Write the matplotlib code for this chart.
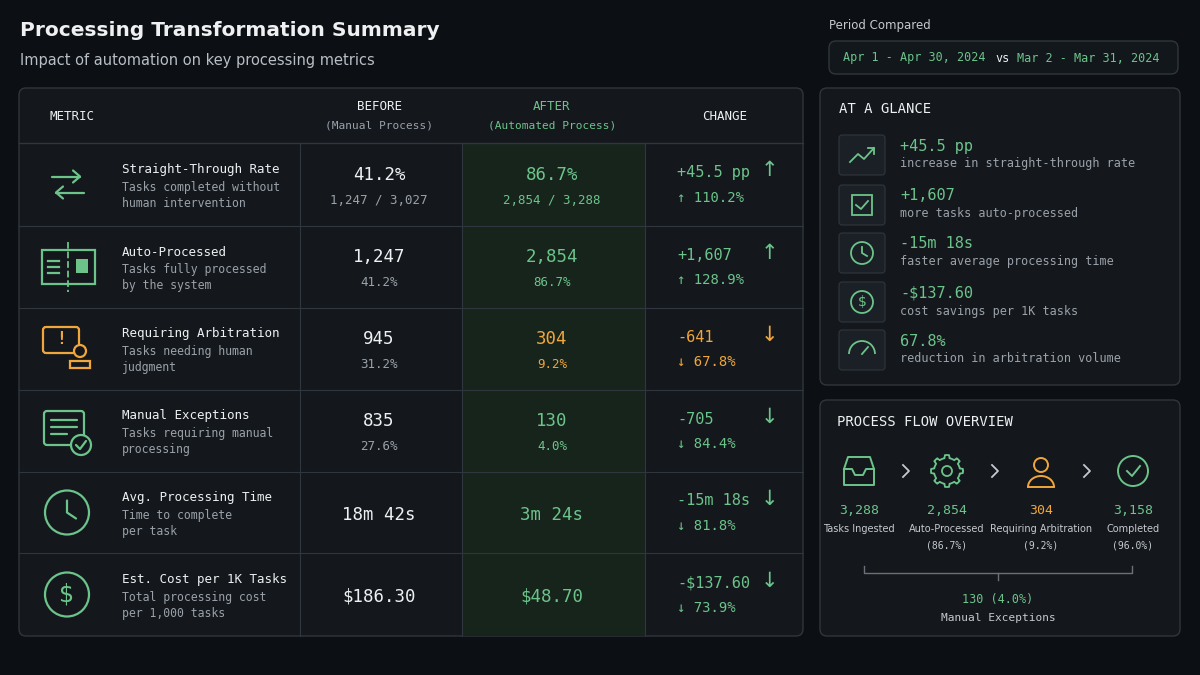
import numpy as np
import matplotlib.pyplot as plt
from matplotlib.patches import FancyBboxPatch, Rectangle, Circle, Arc

# data
metrics = ['Straight-Through Rate', 'Auto-Processed', 'Requiring Arbitration',
           'Manual Exceptions', 'Avg. Processing Time', 'Est. Cost per 1K Tasks']
descs = [['Tasks completed without', 'human intervention'],
         ['Tasks fully processed', 'by the system'],
         ['Tasks needing human', 'judgment'],
         ['Tasks requiring manual', 'processing'],
         ['Time to complete', 'per task'],
         ['Total processing cost', 'per 1,000 tasks']]
before_main = ['41.2%', '1,247', '945', '835', '18m 42s', '$186.30']
before_sub = ['1,247 / 3,027', '41.2%', '31.2%', '27.6%', '', '']
after_main = ['86.7%', '2,854', '304', '130', '3m 24s', '$48.70']
after_sub = ['2,854 / 3,288', '86.7%', '9.2%', '4.0%', '', '']
change_main = ['+45.5 pp', '+1,607', '-641', '-705', '-15m 18s', '-$137.60']
change_pct = ['110.2%', '128.9%', '67.8%', '84.4%', '81.8%', '73.9%']
change_up = [True, True, False, False, False, False]
warn_row = [False, False, True, False, False, False]

glance_vals = ['+45.5 pp', '+1,607', '-15m 18s', '-$137.60', '67.8%']
glance_desc = ['increase in straight-through rate', 'more tasks auto-processed',
               'faster average processing time', 'cost savings per 1K tasks',
               'reduction in arbitration volume']

flow_vals = ['3,288', '2,854', '304', '3,158']
flow_labels = ['Tasks Ingested', 'Auto-Processed', 'Requiring Arbitration', 'Completed']
flow_pcts = ['', '(86.7%)', '(9.2%)', '(96.0%)']
exceptions_val = '130 (4.0%)'

BG = '#0c0f13'
PANEL = '#14181d'
BORDER = '#30363d'
GREEN = '#6cc48a'
ORANGE = '#f0a63a'
WHITE = '#eef0f2'
GREY = '#9aa1a9'
MONO = 'DejaVu Sans Mono'

fig = plt.figure(figsize=(12, 6.75), dpi=100, facecolor=BG)
ax = fig.add_axes([0, 0, 1, 1])
ax.set_xlim(0, 1200)
ax.set_ylim(675, 0)
ax.axis('off')
ax.set_facecolor(BG)


def panel(x0, y0, x1, y1, fc=PANEL):
    ax.add_patch(FancyBboxPatch((x0, y0), x1 - x0, y1 - y0, boxstyle='round,pad=0,rounding_size=7',
                                fc=fc, ec=BORDER, lw=1))


def t(x, y, s, size=9, color=WHITE, ha='left', family=MONO, weight='normal'):
    ax.text(x, y, s, fontsize=size, color=color, ha=ha, va='center', family=family, weight=weight)


# title
t(20, 31, 'Processing Transformation Summary', 14.5, WHITE, family='DejaVu Sans', weight='bold')
t(20, 60, 'Impact of automation on key processing metrics', 10.5, '#b8bec6', family='DejaVu Sans')
t(829, 25, 'Period Compared', 8.5, '#c5cad0', family='DejaVu Sans')
panel(829, 41, 1178, 74, fc='#12171c')
ax.text(843, 58, 'Apr 1 - Apr 30, 2024', fontsize=8.5, color=GREEN, family=MONO, va='center')
ax.text(995, 58, 'vs', fontsize=8.5, color=WHITE, family=MONO, va='center')
ax.text(1017, 58, 'Mar 2 - Mar 31, 2024', fontsize=8.5, color=GREEN, family=MONO, va='center')

# table
panel(19, 88, 803, 636)
cols = [19, 300, 462, 645, 803]
row_y = [143, 226, 308, 390, 472, 553, 636]
ax.add_patch(Rectangle((462, 143), 183, 493, fc='#17241c', ec='none'))
ax.plot([19, 803], [143, 143], color=BORDER, lw=1)
for y in row_y[1:-1]:
    ax.plot([19, 803], [y, y], color=BORDER, lw=0.8)
for x in cols[1:-1]:
    ax.plot([x, x], [143, 636], color=BORDER, lw=0.8)
t(50, 116, 'METRIC', 9)
t(379, 107, 'BEFORE', 9, ha='center')
t(379, 126, '(Manual Process)', 8, GREY, ha='center')
t(552, 107, 'AFTER', 9, GREEN, ha='center')
t(552, 126, '(Automated Process)', 8, GREEN, ha='center')
t(725, 116, 'CHANGE', 9, ha='center')


def icon(i, cx, cy, c):
    kw = dict(color=c, lw=1.6, solid_capstyle='round')
    if i == 0:
        ax.plot([52, 80], [cy - 8, cy - 8], **kw)
        ax.plot([73, 80, 73], [cy - 14, cy - 8, cy - 2], **kw)
        ax.plot([56, 84], [cy + 8, cy + 8], **kw)
        ax.plot([63, 56, 63], [cy + 2, cy + 8, cy + 14], **kw)
    elif i == 1:
        ax.add_patch(Rectangle((42, cy - 17), 53, 34, fc='none', ec=c, lw=1.6))
        ax.plot([68, 68], [cy - 25, cy + 25], color=c, lw=1.3, ls='--')
        for k in range(3):
            ax.plot([48, 59], [cy - 6 + 6 * k] * 2, color=c, lw=1.6)
        ax.add_patch(Rectangle((76, cy - 8), 12, 14, fc=c, ec='none'))
    elif i == 2:
        ax.add_patch(FancyBboxPatch((43, cy - 22), 36, 26, boxstyle='round,pad=0,rounding_size=3',
                                    fc='none', ec=c, lw=1.6))
        t(61, cy - 10, '!', 12, c, ha='center', weight='bold')
        ax.add_patch(Circle((80, cy + 2), 6, fc=PANEL, ec=c, lw=1.6))
        ax.add_patch(Rectangle((70, cy + 12), 20, 7, fc='none', ec=c, lw=1.6))
    elif i == 3:
        ax.add_patch(FancyBboxPatch((44, cy - 20), 40, 34, boxstyle='round,pad=0,rounding_size=3',
                                    fc='none', ec=c, lw=1.6))
        for k, w in enumerate([26, 26, 16]):
            ax.plot([51, 51 + w], [cy - 11 + 7 * k] * 2, **kw)
        ax.add_patch(Circle((81, cy + 14), 10, fc=PANEL, ec=c, lw=1.6))
        ax.plot([76, 80, 86], [cy + 14, cy + 18, cy + 10], **kw)
    elif i == 4:
        ax.add_patch(Circle((cx, cy), 22, fc='none', ec=c, lw=1.6))
        ax.plot([cx, cx, cx + 9], [cy - 12, cy, cy + 6], **kw)
    else:
        ax.add_patch(Circle((cx, cy), 22, fc='none', ec=c, lw=1.6))
        t(cx, cy, '$', 17, c, ha='center', family='DejaVu Sans')


for i in range(6):
    y0, y1 = row_y[i], row_y[i + 1]
    cy = (y0 + y1) / 2
    ic = ORANGE if warn_row[i] else GREEN
    icon(i, 67, cy, ic)
    t(122, cy - 15, metrics[i], 9)
    t(122, cy + 3, descs[i][0], 8.3, GREY)
    t(122, cy + 19, descs[i][1], 8.3, GREY)
    acol = ORANGE if warn_row[i] else GREEN
    if before_sub[i]:
        t(379, cy - 10, before_main[i], 12.5, ha='center')
        t(379, cy + 16, before_sub[i], 9, GREY, ha='center')
        t(552, cy - 10, after_main[i], 12.5, acol, ha='center')
        t(552, cy + 16, after_sub[i], 9, acol, ha='center')
    else:
        t(379, cy + 2, before_main[i], 12.5, ha='center')
        t(552, cy + 2, after_main[i], 12.5, acol, ha='center')
    ccol = ORANGE if warn_row[i] else GREEN
    arrow = '↑' if change_up[i] else '↓'
    t(677, cy - 12, change_main[i], 11, ccol)
    t(769, cy - 14, arrow, 15, ccol, ha='center', family='DejaVu Sans')
    t(677, cy + 13, arrow + ' ' + change_pct[i], 10, ccol)

# at a glance
panel(820, 88, 1180, 385)
t(839, 109, 'AT A GLANCE', 10)
gy = [155, 205, 253, 302, 350]
for k in range(5):
    y = gy[k]
    ax.add_patch(FancyBboxPatch((839, y - 20), 46, 40, boxstyle='round,pad=0,rounding_size=3',
                                fc='#1b2026', ec=BORDER, lw=0.8))
    cx = 862
    kw = dict(color=GREEN, lw=1.3)
    if k == 0:
        ax.plot([850, 858, 864, 874], [y + 7, y - 1, y + 4, y - 7], **kw)
        ax.plot([868, 874, 874], [y - 7, y - 7, y - 1], **kw)
    elif k == 1:
        ax.add_patch(Rectangle((852, y - 10), 20, 20, fc='none', ec=GREEN, lw=1.3))
        ax.plot([856, 861, 868], [y, y + 4, y - 4], **kw)
    elif k == 2:
        ax.add_patch(Circle((cx, y), 11, fc='none', ec=GREEN, lw=1.3))
        ax.plot([cx, cx, cx + 5], [y - 6, y, y + 3], **kw)
    elif k == 3:
        ax.add_patch(Circle((cx, y), 11, fc='none', ec=GREEN, lw=1.3))
        t(cx, y, '$', 10, GREEN, ha='center', family='DejaVu Sans')
    else:
        ax.add_patch(Arc((cx, y + 4), 26, 26, theta1=180, theta2=360, color=GREEN, lw=1.3))
        ax.plot([cx, cx + 6], [y + 4, y - 3], **kw)
    t(900, y - 9, glance_vals[k], 11, GREEN)
    t(900, y + 9, glance_desc[k], 8.5, GREY)

# process flow
panel(820, 400, 1180, 636)
t(837, 422, 'PROCESS FLOW OVERVIEW', 10)
fx = [859, 947, 1041, 1133]
fy = 471
for k in range(4):
    c = ORANGE if k == 2 else GREEN
    x = fx[k]
    if k == 0:
        ax.plot([844, 848, 870, 874, 874, 844, 844], [fy - 2, fy - 14, fy - 14, fy - 2, fy + 14, fy + 14, fy - 2], color=c, lw=1.4)
        ax.plot([844, 852, 855, 863, 866, 874], [fy - 2, fy - 2, fy + 4, fy + 4, fy - 2, fy - 2], color=c, lw=1.4)
    elif k == 1:
        ang = np.linspace(0, 2 * np.pi, 97)
        r = 13 + 3 * (np.cos(8 * ang) > 0.3)
        ax.plot(x + r * np.cos(ang), fy + r * np.sin(ang), color=c, lw=1.3)
        ax.add_patch(Circle((x, fy), 5, fc='none', ec=c, lw=1.3))
    elif k == 2:
        ax.add_patch(Circle((x, fy - 6), 7, fc='none', ec=c, lw=1.4))
        ax.add_patch(Arc((x, fy + 16), 26, 22, theta1=180, theta2=360, color=c, lw=1.4))
        ax.plot([x - 13, x + 13], [fy + 16, fy + 16], color=c, lw=1.4)
    else:
        ax.add_patch(Circle((x, fy), 15, fc='none', ec=c, lw=1.4))
        ax.plot([x - 6, x - 1, x + 7], [fy, fy + 5, fy - 5], color=c, lw=1.4)
    t(x, 511, flow_vals[k], 9.5, c, ha='center')
    t(x, 529, flow_labels[k], 7, '#c5cad0', ha='center', family='DejaVu Sans')
    if flow_pcts[k]:
        t(x, 546, flow_pcts[k], 7, '#c5cad0', ha='center')
for x in [906, 995, 1087]:
    ax.plot([x - 3, x + 3, x - 3], [fy - 6, fy, fy + 6], color='#c5cad0', lw=1.3)
ax.plot([864, 864, 1132, 1132], [566, 573, 573, 566], color='#6b7178', lw=1)
ax.plot([998, 998], [573, 580], color='#6b7178', lw=1)
t(998, 599, exceptions_val, 8.5, GREEN, ha='center')
t(998, 618, 'Manual Exceptions', 8, '#c5cad0', ha='center')

fig.savefig('out.png', dpi=100, facecolor=BG)
